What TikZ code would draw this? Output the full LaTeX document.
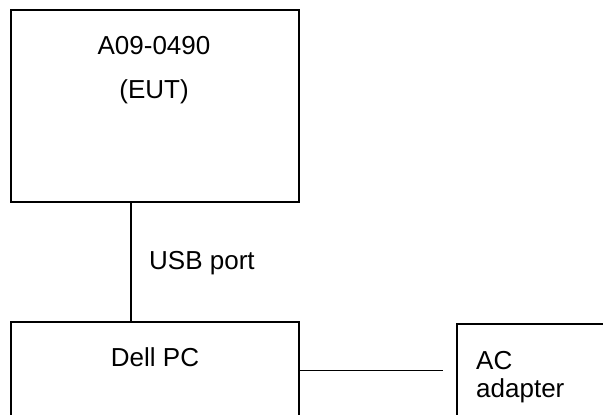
\documentclass[tikz,border=0pt]{standalone}
\usepackage{fontspec}
\setmainfont{Liberation Sans}
\begin{document}
\begin{tikzpicture}[x=1pt,y=-1pt,
  box/.style={draw=black,line width=1.2pt,rectangle,inner sep=0pt},
  lbl/.style={inner sep=0pt,font=\fontsize{26}{28}\selectfont},
  wire/.style={draw=black,line width=1.2pt}]
\useasboundingbox (0,0) rectangle (603,415);
\clip (0,0) rectangle (603,415);
% boxes
\node[box,minimum width=288pt,minimum height=192pt] (eut) at (155,106) {};
\node[box,minimum width=288pt,minimum height=120pt] (pc) at (155,382) {};
\node[box,minimum width=240pt,minimum height=120pt] (ac) at (577,384) {};
% texts
\node[lbl,anchor=base] (t1) at (154,54.3) {A09-0490};
\node[lbl,anchor=base] (t2) at (154,98.5) {(EUT)};
\node[lbl,anchor=base west] (usb) at (149,269.3) {USB port};
\node[lbl,anchor=base] (t3) at (155,366) {Dell PC};
\node[lbl,anchor=base west] (t4) at (476,369.3) {AC};
\node[lbl,anchor=base west] (t5) at (476,397) {adapter};
% connectors
\coordinate (xusb) at (131,0);
\coordinate (acend) at (443,370.5);
\draw[wire] (eut.south -| xusb) -- (pc.north -| xusb);
\draw[wire] (pc.east |- acend) -- (acend);
\end{tikzpicture}
\end{document}
